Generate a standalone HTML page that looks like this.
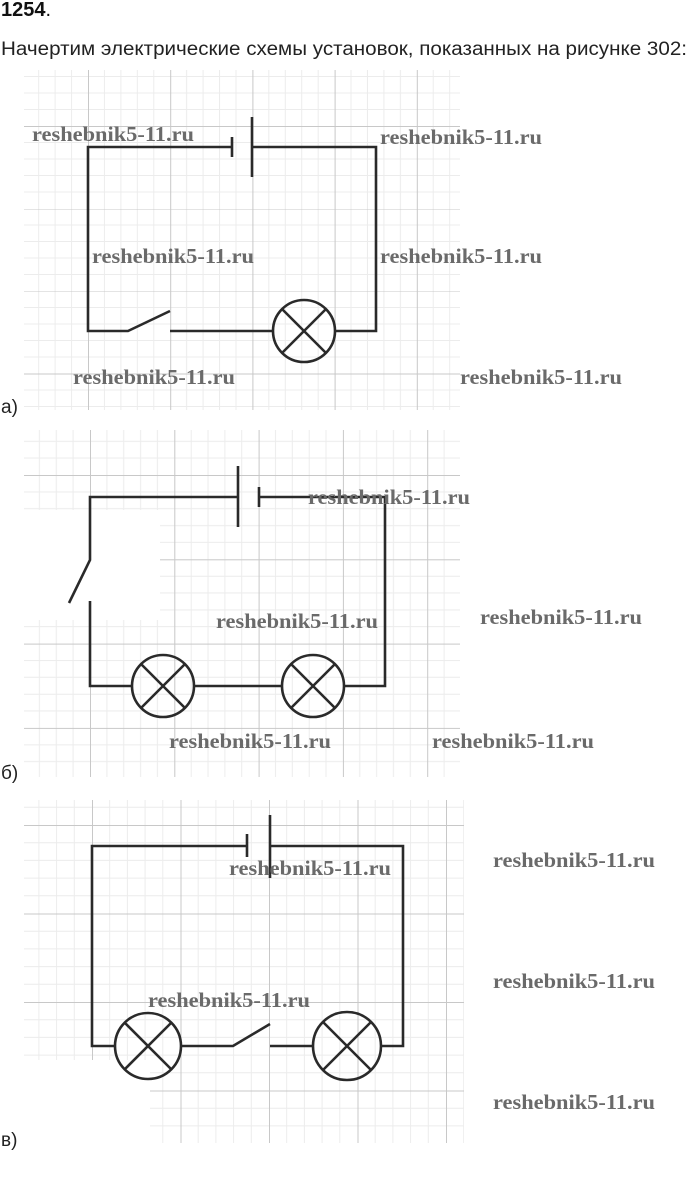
<!DOCTYPE html>
<html><head><meta charset="utf-8"><style>
html,body{margin:0;padding:0;background:#fff;}
svg{display:block;}
.wm{font-family:"Liberation Serif",serif;font-weight:bold;font-size:21px;fill:#6a6a6a;}
.c{stroke:#2a2a2a;stroke-width:2.6;fill:none;}
.lbl{font-family:"Liberation Sans",sans-serif;font-size:19px;fill:#222;}
</style></head><body>
<svg width="691" height="1181" viewBox="0 0 691 1181" xmlns="http://www.w3.org/2000/svg">
<defs>
<pattern id="ga" x="88" y="126" width="82.2" height="82.5" patternUnits="userSpaceOnUse">
<path d="M16.4 0V82.5M32.9 0V82.5M49.3 0V82.5M65.8 0V82.5M0 16.5H82.2M0 33H82.2M0 49.5H82.2M0 66H82.2" stroke="#ececec" stroke-width="1"/>
<path d="M0.5 0V82.5M0 0.5H82.2" stroke="#c8c8c8" stroke-width="1"/>
</pattern>
<pattern id="gb" x="90" y="475" width="84.3" height="84.3" patternUnits="userSpaceOnUse">
<path d="M16.9 0V84.3M33.7 0V84.3M50.6 0V84.3M67.4 0V84.3M0 16.9H84.3M0 33.7H84.3M0 50.6H84.3M0 67.4H84.3" stroke="#ececec" stroke-width="1"/>
<path d="M0.5 0V84.3M0 0.5H84.3" stroke="#c8c8c8" stroke-width="1"/>
</pattern>
<pattern id="gc" x="92" y="825" width="88.5" height="88.5" patternUnits="userSpaceOnUse">
<path d="M17.7 0V88.5M35.4 0V88.5M53.1 0V88.5M70.8 0V88.5M0 17.7H88.5M0 35.4H88.5M0 53.1H88.5M0 70.8H88.5" stroke="#ececec" stroke-width="1"/>
<path d="M0.5 0V88.5M0 0.5H88.5" stroke="#c8c8c8" stroke-width="1"/>
</pattern>
</defs>
<text x="1" y="16" font-family="Liberation Sans,sans-serif" font-size="20" font-weight="bold" fill="#111">1254<tspan font-weight="normal">.</tspan></text>
<text x="1" y="55" class="lbl" font-size="20" textLength="686" lengthAdjust="spacingAndGlyphs">Начертим электрические схемы установок, показанных на рисунке 302:</text>

<rect x="24" y="70" width="436" height="340" fill="url(#ga)"/>
<rect x="24" y="430" width="436" height="347" fill="url(#gb)"/>
<rect x="24" y="800" width="440" height="343" fill="url(#gc)"/>
<rect x="0" y="510" width="160" height="110" fill="#fff"/>
<rect x="0" y="1060" width="150" height="90" fill="#fff"/>

<g class="c">
<path d="M232 147H88V331H128L170 311M170 331H273M335 331H376V147H252"/>
<path d="M232 137V157M252 117V177"/>
<circle cx="304" cy="331" r="31"/>
<path d="M282 309L326 353M326 309L282 353"/>
</g>
<g class="c">
<path d="M238 497H90V560L69 603M90 601V686H132M194 686H282M344 686H385V497H259"/>
<path d="M238 466V527M259 487V507"/>
<circle cx="163" cy="686" r="31"/>
<path d="M141 664L185 708M185 664L141 708"/>
<circle cx="313" cy="686" r="31"/>
<path d="M291 664L335 708M335 664L291 708"/>
</g>
<g class="c">
<path d="M247 846H92V1046H115M181 1046H233L270 1024M270 1046H313M381 1046H403V846H270"/>
<path d="M247 834V857M270 815V878"/>
<circle cx="148" cy="1046" r="33"/>
<path d="M125 1023L171 1069M171 1023L125 1069"/>
<circle cx="347" cy="1046" r="34"/>
<path d="M323 1022L371 1070M371 1022L323 1070"/>
</g>

<text class="lbl" x="1" y="413">а)</text>
<text class="lbl" x="1" y="779">б)</text>
<text class="lbl" x="1" y="1146">в)</text>

<g class="wm">
<text x="32" y="141" textLength="162" lengthAdjust="spacingAndGlyphs">reshebnik5-11.ru</text>
<text x="380" y="144" textLength="162" lengthAdjust="spacingAndGlyphs">reshebnik5-11.ru</text>
<text x="92" y="263" textLength="162" lengthAdjust="spacingAndGlyphs">reshebnik5-11.ru</text>
<text x="380" y="263" textLength="162" lengthAdjust="spacingAndGlyphs">reshebnik5-11.ru</text>
<text x="73" y="384" textLength="162" lengthAdjust="spacingAndGlyphs">reshebnik5-11.ru</text>
<text x="460" y="384" textLength="162" lengthAdjust="spacingAndGlyphs">reshebnik5-11.ru</text>
<text x="308" y="504" textLength="162" lengthAdjust="spacingAndGlyphs">reshebnik5-11.ru</text>
<text x="480" y="624" textLength="162" lengthAdjust="spacingAndGlyphs">reshebnik5-11.ru</text>
<text x="216" y="628" textLength="162" lengthAdjust="spacingAndGlyphs">reshebnik5-11.ru</text>
<text x="169" y="748" textLength="162" lengthAdjust="spacingAndGlyphs">reshebnik5-11.ru</text>
<text x="432" y="748" textLength="162" lengthAdjust="spacingAndGlyphs">reshebnik5-11.ru</text>
<text x="229" y="875" textLength="162" lengthAdjust="spacingAndGlyphs">reshebnik5-11.ru</text>
<text x="493" y="867" textLength="162" lengthAdjust="spacingAndGlyphs">reshebnik5-11.ru</text>
<text x="148" y="1007" textLength="162" lengthAdjust="spacingAndGlyphs">reshebnik5-11.ru</text>
<text x="493" y="988" textLength="162" lengthAdjust="spacingAndGlyphs">reshebnik5-11.ru</text>
<text x="493" y="1109" textLength="162" lengthAdjust="spacingAndGlyphs">reshebnik5-11.ru</text>
</g>
</svg>
</body></html>
